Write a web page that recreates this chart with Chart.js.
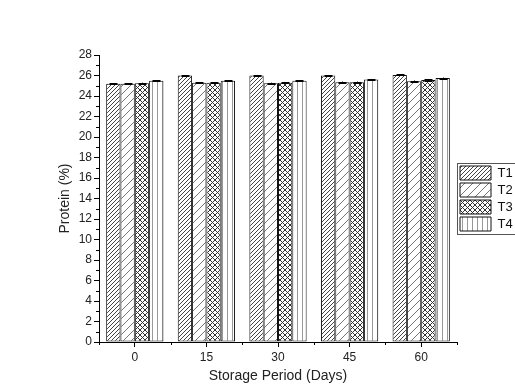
<!DOCTYPE html>
<html>
<head>
<meta charset="utf-8">
<script src="https://cdn.jsdelivr.net/npm/chart.js@4.4.1/dist/chart.umd.min.js"></script>
<style>
html,body{margin:0;padding:0;background:#fff;}
#wrap{width:515px;height:388px;}
</style>
</head>
<body>
<div id="wrap"><canvas id="c" width="515" height="388"></canvas></div>
<script>
const categories = ['0', '15', '30', '45', '60'];
const seriesNames = ['T1', 'T2', 'T3', 'T4'];
const T1 = [25.2, 26.0, 26.0, 26.0, 26.05];
const T2 = [25.2, 25.3, 25.25, 25.35, 25.45];
const T3 = [25.25, 25.3, 25.3, 25.35, 25.55];
const T4 = [25.5, 25.5, 25.5, 25.6, 25.75];
const T1err = [0.05, 0.05, 0.05, 0.05, 0.05];
const T2err = [0.05, 0.06, 0.05, 0.06, 0.06];
const T3err = [0.05, 0.06, 0.05, 0.06, 0.06];
const T4err = [0.05, 0.05, 0.05, 0.06, 0.05];
const yTicks = [0, 2, 4, 6, 8, 10, 12, 14, 16, 18, 20, 22, 24, 26, 28];

const FONT = "'Liberation Sans', Arial, sans-serif";

function makePattern(kind) {
  const s = kind === 'sparse' ? 8 : (kind === 'cross' ? 5 : (kind === 'vert' ? 5 : 4));
  const cv = document.createElement('canvas');
  cv.width = s; cv.height = s;
  const c = cv.getContext('2d');
  c.fillStyle = '#fff';
  c.fillRect(0, 0, s, s);
  c.lineWidth = 1;
  if (kind === 'dense' || kind === 'sparse') {
    c.strokeStyle = kind === 'dense' ? '#444' : '#777';
    c.beginPath();
    c.moveTo(0, s); c.lineTo(s, 0);
    c.moveTo(-1, 1); c.lineTo(1, -1);
    c.moveTo(s - 1, s + 1); c.lineTo(s + 1, s - 1);
    c.stroke();
  } else if (kind === 'cross') {
    c.strokeStyle = '#333';
    c.beginPath();
    c.moveTo(0, s); c.lineTo(s, 0);
    c.moveTo(0, 0); c.lineTo(s, s);
    c.stroke();
  } else if (kind === 'vert') {
    c.strokeStyle = '#999';
    c.beginPath();
    c.moveTo(2.5, 0); c.lineTo(2.5, s);
    c.stroke();
  }
  return document.getElementById('c').getContext('2d').createPattern(cv, 'repeat');
}

const patterns = [makePattern('dense'), makePattern('sparse'), makePattern('cross'), makePattern('vert')];
const values = [T1, T2, T3, T4];
const errors = [T1err, T2err, T3err, T4err];

const datasets = values.map((v, i) => ({
  label: seriesNames[i],
  data: v,
  backgroundColor: patterns[i],
  borderColor: '#111',
  borderWidth: 1,
  borderSkipped: false,
  categoryPercentage: 0.8,
  barPercentage: 1.0
}));

const extras = {
  id: 'extras',
  afterDatasetsDraw(chart) {
    const ctx = chart.ctx;
    const ys = chart.scales.y;
    ctx.save();
    ctx.strokeStyle = '#000';
    ctx.lineWidth = 1;
    chart.data.datasets.forEach((ds, di) => {
      const meta = chart.getDatasetMeta(di);
      meta.data.forEach((bar, j) => {
        const v = ds.data[j], e = errors[di][j];
        const x = Math.round(bar.x) + 0.5;
        const yt = ys.getPixelForValue(v + e);
        const yb = ys.getPixelForValue(v - e);
        ctx.beginPath();
        ctx.moveTo(x, yt); ctx.lineTo(x, yb);
        ctx.moveTo(x - 4, Math.round(yt) + 0.5); ctx.lineTo(x + 4, Math.round(yt) + 0.5);
        ctx.moveTo(x - 4, Math.round(yb) + 0.5); ctx.lineTo(x + 4, Math.round(yb) + 0.5);
        ctx.stroke();
      });
    });
    ctx.restore();
  },
  afterDraw(chart) {
    const ctx = chart.ctx;
    const ys = chart.scales.y;
    const area = chart.chartArea;
    ctx.save();
    ctx.strokeStyle = '#000';
    ctx.lineWidth = 1;
    ctx.beginPath();
    for (let v = 1; v < 28; v += 2) {
      const y = Math.round(ys.getPixelForValue(v)) + 0.5;
      ctx.moveTo(area.left - 3, y); ctx.lineTo(area.left, y);
    }
    const n = categories.length;
    for (let i = 0; i <= n; i++) {
      const x = Math.round(area.left + (area.right - area.left) * i / n) + 0.5;
      ctx.moveTo(x, area.bottom); ctx.lineTo(x, area.bottom + 3);
    }
    ctx.stroke();
    const lg = chart.legend;
    if (lg && lg.legendHitBoxes && lg.legendHitBoxes.length) {
      const hb = lg.legendHitBoxes;
      const top = hb[0].top - 3;
      const bot = hb[hb.length - 1].top + hb[hb.length - 1].height + 3;
      ctx.strokeStyle = '#555';
      ctx.strokeRect(Math.round(lg.left) + 0.5, Math.round(top) + 0.5, 80, Math.round(bot - top));
    }
    ctx.restore();
  }
};

new Chart(document.getElementById('c'), {
  type: 'bar',
  data: { labels: categories, datasets },
  plugins: [extras],
  options: {
    responsive: false,
    animation: false,
    layout: { padding: { left: 0, top: 55, right: 0, bottom: 0 } },
    plugins: {
      legend: {
        position: 'right',
        fullSize: false,
        maxWidth: 58,
        labels: {
          boxWidth: 31,
          boxHeight: 14,
          padding: 3,
          color: '#111',
          font: { family: FONT, size: 13 }
        }
      },
      tooltip: { enabled: false }
    },
    scales: {
      x: {
        afterFit(s) { s.height = 46; },
        grid: { drawOnChartArea: false, drawTicks: true, tickLength: 5, color: '#000', offset: false },
        border: { color: '#000', width: 1 },
        ticks: { color: '#222', font: { family: FONT, size: 12 }, padding: 3, maxRotation: 0 },
        title: { display: true, text: 'Storage Period (Days)', color: '#222', font: { family: FONT, size: 14 }, padding: { top: 0, bottom: 3 } }
      },
      y: {
        min: 0,
        max: 28,
        afterFit(s) { s.width = 99; },
        afterBuildTicks(s) { s.ticks = yTicks.map(v => ({ value: v })); },
        grid: { drawOnChartArea: false, drawTicks: true, tickLength: 5, color: '#000' },
        border: { color: '#000', width: 1 },
        ticks: { color: '#222', font: { family: FONT, size: 12 }, padding: 2 },
        title: { display: true, text: 'Protein (%)', color: '#222', font: { family: FONT, size: 14 }, padding: { top: 57, bottom: 0 } }
      }
    }
  }
});
</script>
</body>
</html>
